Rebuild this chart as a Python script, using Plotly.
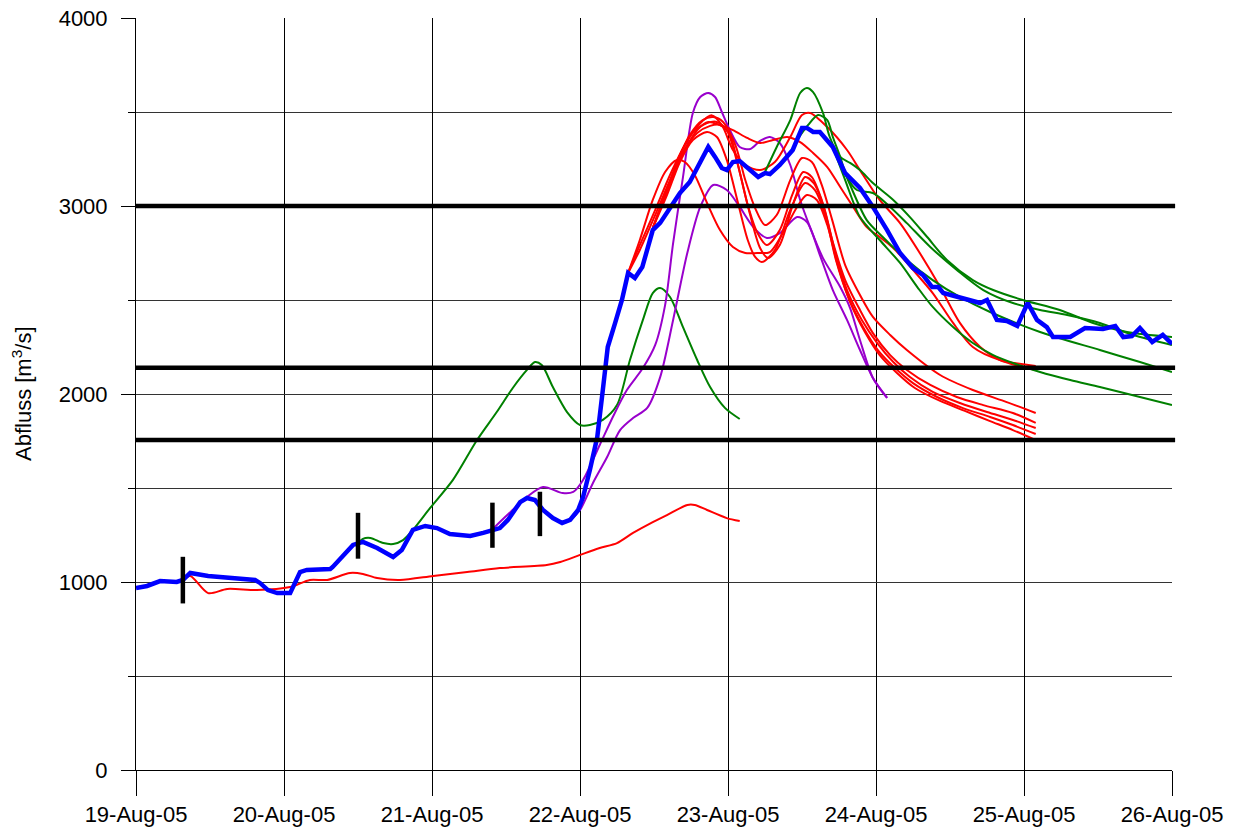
import pandas as pd
import plotly.graph_objects as go

BASE = pd.Timestamp("2005-08-19 00:00")

# Observed discharge (hours since 19-Aug-05 00:00, m3/s)
obs_h = [0.0, 1.8, 3.9, 6.6, 7.6, 8.8, 11.7, 13.6, 16.1, 19.3, 20.1, 21.4, 22.9, 25.0,
         26.6, 27.7, 31.5, 31.9, 35.2, 36.8, 39.1, 41.7, 43.1, 44.9, 46.9, 48.8, 50.9,
         54.2, 56.3, 57.7, 59.0, 60.3, 62.3, 63.4, 64.7, 66.0, 67.6, 69.1, 70.4, 71.7,
         72.5, 73.6, 74.8, 75.7, 76.5, 77.7, 78.8, 79.8, 80.9, 82.1, 83.8, 85.0, 86.6,
         88.2, 89.8, 91.5, 92.8, 93.9, 95.0, 95.8, 96.8, 97.9, 99.6, 100.9, 102.0, 102.8,
         104.4, 106.5, 108.0, 108.8, 109.8, 110.9, 113.0, 115.0, 117.4, 119.5, 121.8,
         123.9, 126.0, 127.6, 129.1, 130.1, 130.9, 133.1, 135.2, 136.9, 138.0, 139.6,
         141.2, 142.9, 144.6, 146.1, 147.7, 148.7, 151.5, 153.9, 156.8, 158.8, 160.1,
         161.5, 162.8, 164.8, 166.5, 168.0]
obs_q = [968, 979, 1005, 1000, 1011, 1048, 1032, 1027, 1016, 1011, 995, 957, 941, 941,
         1053, 1064, 1069, 1080, 1197, 1213, 1181, 1133, 1170, 1277, 1298, 1287, 1255,
         1245, 1261, 1277, 1287, 1330, 1425, 1447, 1436, 1383, 1340, 1314, 1330, 1383,
         1452, 1596, 1771, 2021, 2250, 2378, 2500, 2644, 2617, 2675, 2872, 2910, 2995,
         3069, 3128, 3229, 3314, 3261, 3202, 3191, 3234, 3239, 3191, 3154, 3175, 3170,
         3218, 3298, 3415, 3415, 3394, 3394, 3314, 3175, 3096, 2995, 2872,
         2750, 2670, 2633, 2569, 2569, 2537, 2516, 2500, 2484, 2500, 2394,
         2388, 2362, 2484, 2394, 2356, 2303, 2303, 2351, 2346, 2362, 2303,
         2308, 2351, 2277, 2314, 2266]

# Forecast issued 19-Aug morning
fc0_h = [7.6, 8.8, 11.7, 14.8, 19.6, 25.0, 28.2, 31.0, 34.7, 36.8, 39.1, 42.8, 48.2, 53.7,
         59.0, 66.6, 68.8, 72.0, 75.2, 78.0, 80.6, 83.8, 86.1, 89.4, 90.6, 92.6, 95.8, 97.9]
fc0_q = [1011, 1032, 941, 963, 957, 973, 1011, 1011, 1048, 1043, 1021, 1011, 1032, 1053,
         1074, 1090, 1106, 1144, 1181, 1207, 1261, 1319, 1356, 1410, 1410, 1383, 1340, 1324]

# Forecast issued 20-Aug midday
fc1_h = [35.8, 36.8, 38.0, 40.1, 41.7, 43.3, 44.9, 47.7, 51.4, 55.3, 58.5, 61.1, 63.4, 64.7,
         65.8, 67.6, 69.9, 72.0, 73.6, 75.7, 78.0, 80.1, 82.2, 83.8, 85.0, 86.6, 88.7,
         91.0, 93.1, 95.5, 97.9]
fc1_q = [1197, 1229, 1234, 1207, 1202, 1223, 1277, 1394, 1543, 1755, 1904, 2032, 2128, 2170,
         2154, 2037, 1904, 1835, 1835, 1862, 1941, 2181, 2394, 2537, 2564, 2516, 2356,
         2181, 2037, 1926, 1867]

# Forecasts issued 21-Aug
fc2_h = [57.7, 60.2, 63.4, 66.0, 69.2, 70.9, 72.5, 75.2, 77.4, 79.6, 82.2, 84.2, 85.8, 87.1,
         88.7, 90.3, 91.5, 92.8, 93.9, 95.0, 96.3, 97.9, 99.6, 101.2, 102.8, 104.4, 106.1,
         107.7, 109.3, 111.4, 114.2, 115.8, 117.4, 119.5, 121.8]
fc2_q = [1277, 1356, 1452, 1505, 1473, 1479, 1543, 1729, 1883, 2021, 2138, 2261, 2473, 2803,
         3154, 3495, 3580, 3601, 3580, 3500, 3404, 3314, 3303, 3346, 3367, 3335, 3218,
         3032, 2888, 2723, 2569, 2457, 2287, 2085, 1979]

fc3_h = [65.5, 67.6, 69.1, 70.4, 72.0, 74.1, 76.4, 78.5, 80.6, 82.9, 85.0, 87.1, 89.4, 91.5,
         93.6, 95.8, 97.9, 100.1, 102.3, 104.4, 107.2, 108.8, 110.9, 113.0, 115.3, 117.4,
         119.5, 121.8]
fc3_q = [1404, 1340, 1314, 1330, 1383, 1527, 1665, 1808, 1872, 1926, 2090, 2394, 2750, 2995,
         3112, 3085, 2995, 2888, 2830, 2856, 2941, 2915, 2739, 2553, 2394, 2234,
         2085, 1979]

# Ensemble issued 22-Aug
ens_h = [
    [79.8, 81.7, 83.8, 85.8, 87.7, 89.0, 90.6, 92.6, 94.7, 96.8, 98.8, 100.7, 102.8, 104.9,
     107.2, 108.8, 110.4, 112.1, 113.8, 115.8, 118.2, 120.6, 123.4, 126.3, 130.4, 134.4,
     138.5, 142.2, 145.9],
    [79.8, 81.7, 84.2, 86.6, 89.0, 91.0, 92.8, 94.7, 96.8, 99.1, 101.2, 103.3, 105.6, 107.7,
     109.8, 112.1, 114.2, 116.3, 118.5, 120.6, 122.8, 126.0, 129.2, 132.5, 135.7, 140.1, 145.9],
    [79.8, 81.7, 84.2, 86.6, 89.0, 91.5, 93.4, 95.0, 96.8, 98.8, 101.2, 103.6, 106.1, 108.0,
     109.3, 112.1, 115.3, 117.4, 120.6, 123.9, 127.1, 130.4, 133.6, 136.9, 140.1, 145.9],
    [83.8, 85.8, 87.9, 89.8, 91.9, 93.6, 95.2, 97.2, 98.8, 100.4, 102.0, 103.9, 106.1, 108.0,
     109.6, 111.2, 112.9, 115.0, 117.4, 119.5, 122.3, 125.0, 130.4, 135.7, 141.2, 145.9],
    [83.8, 86.1, 88.2, 90.3, 92.6, 94.2, 95.8, 97.6, 99.2, 100.7, 102.3, 104.4, 106.4, 108.2,
     109.6, 111.2, 112.9, 115.0, 117.4, 119.5, 122.3, 125.0, 128.8, 133.1, 137.4, 142.2, 145.9],
    [83.8, 86.3, 88.7, 91.0, 93.1, 94.7, 96.3, 97.9, 99.6, 101.2, 102.5, 104.4, 106.5, 108.5,
     109.9, 111.6, 113.2, 115.3, 117.7, 120.2, 122.8, 125.5, 129.2, 133.6, 138.0, 142.2, 145.9],
    [83.8, 86.1, 88.2, 90.3, 92.6, 94.2, 95.8, 97.5, 99.2, 100.4, 101.5, 103.6, 106.1, 108.5,
     110.1, 111.9, 113.5, 115.5, 117.9, 120.3, 123.1, 126.0, 129.9, 134.1, 138.5, 142.2, 145.9],
]
ens_q = [
    [2644, 2819, 3032, 3181, 3245, 3234, 3165, 3016, 2872, 2782, 2750, 2750, 2755, 2856,
     2995, 3058, 3032, 2899, 2686, 2489, 2330, 2207, 2112, 2032, 1963, 1910,
     1856, 1808, 1755],
    [2644, 2766, 2952, 3138, 3298, 3404, 3447, 3431, 3404, 3362, 3335, 3351, 3367, 3340,
     3282, 3207, 3101, 2995, 2888, 2835, 2777, 2660, 2537, 2378, 2250, 2181, 2149],
    [2644, 2792, 2979, 3165, 3324, 3440, 3482, 3431, 3298, 3218, 3191, 3234, 3367, 3484,
     3495, 3420, 3298, 3191, 3032, 2909, 2750, 2569, 2378, 2250, 2181, 2128],
    [2883, 3058, 3245, 3378, 3457, 3473, 3447, 3324, 3138, 2989, 2899, 2952, 3138, 3255,
     3234, 3112, 2925, 2686, 2527, 2410, 2314, 2234, 2101, 2021, 1957, 1899],
    [2883, 3085, 3271, 3394, 3441, 3447, 3404, 3218, 3005, 2862, 2792, 2872, 3058, 3181,
     3154, 3032, 2819, 2606, 2447, 2324, 2207, 2128, 2048, 1984, 1941, 1899, 1846],
    [2883, 3096, 3287, 3388, 3426, 3431, 3378, 3181, 2952, 2777, 2723, 2792, 3005, 3154,
     3122, 2989, 2777, 2553, 2394, 2271, 2170, 2090, 2011, 1952, 1904, 1862, 1819],
    [2883, 3058, 3234, 3351, 3394, 3367, 3245, 3032, 2819, 2729, 2702, 2766, 2979, 3122,
     3085, 2936, 2713, 2516, 2356, 2234, 2138, 2058, 1984, 1925, 1878, 1835, 1787],
]

# Forecasts issued 23-Aug
late_h = [
    [102.0, 103.9, 106.1, 107.7, 108.8, 109.8, 111.4, 112.5, 114.2, 115.8, 117.4, 119.5,
     122.8, 125.5, 128.3, 131.5, 135.7, 139.0, 143.8, 149.8, 155.2, 160.7, 168.0],
    [107.2, 109.0, 110.6, 112.1, 113.0, 114.2, 115.3, 116.9, 119.5, 122.3, 125.0, 128.8,
     133.1, 137.4, 142.2, 146.6, 151.0, 156.3, 161.7, 168.0],
    [113.8, 115.8, 118.5, 121.1, 125.0, 129.2, 133.6, 138.5, 146.6, 156.3, 162.8, 168.0],
    [113.0, 115.0, 117.4, 120.6, 123.9, 126.7, 129.2, 132.5, 135.7, 139.0, 142.2, 146.6,
     151.5, 156.3, 162.8, 168.0],
]
late_q = [
    [3181, 3314, 3457, 3601, 3628, 3606, 3495, 3367, 3261, 3229, 3191, 3122,
     3032, 2941, 2835, 2713, 2606, 2553, 2500, 2447, 2378, 2330, 2303],
    [3351, 3431, 3484, 3457, 3367, 3261, 3154, 3085, 3069, 2995, 2909, 2782,
     2660, 2553, 2484, 2447, 2420, 2378, 2314, 2261],
    [3271, 3112, 2925, 2835, 2713, 2606, 2516, 2436, 2330, 2234, 2170, 2117],
    [3314, 3138, 2941, 2819, 2697, 2569, 2463, 2356, 2271, 2207, 2165, 2117,
     2074, 2037, 1984, 1941],
]

# Forecast issue times (vertical bars) and their extent
issue_h = [7.6, 36.0, 57.8, 65.5]
issue_lo = [886, 1124, 1182, 1244]
issue_hi = [1134, 1368, 1422, 1480]

# Threshold levels
thresholds = [3000, 2140, 1755]

day_ticks = pd.date_range("2005-08-19", "2005-08-26", freq="D")


def to_time(hours):
    return BASE + pd.to_timedelta(hours, unit="h")


RED = "#FF0000"
GREEN = "#008000"
PURPLE = "#9900CC"
BLUE = "#0000FF"

fig = go.Figure()


def add_line(h, q, color, width=2.0, shape="spline"):
    fig.add_trace(go.Scatter(
        x=to_time(h), y=q, mode="lines",
        line=dict(color=color, width=width, shape=shape, smoothing=0.8),
        showlegend=False, hoverinfo="skip"))


add_line(fc0_h, fc0_q, RED)
add_line(fc1_h, fc1_q, GREEN)
add_line(fc2_h, fc2_q, PURPLE)
add_line(fc3_h, fc3_q, PURPLE)
for h, q in zip(ens_h, ens_q):
    add_line(h, q, RED)
for h, q in zip(late_h, late_q):
    add_line(h, q, GREEN)

# Observed hydrograph on top of the forecasts
add_line(obs_h, obs_q, BLUE, width=4.5, shape="linear")

# Issue-time bars
bx, by = [], []
for h, lo, hi in zip(issue_h, issue_lo, issue_hi):
    t = to_time([h])[0]
    bx += [t, t, None]
    by += [lo, hi, None]
fig.add_trace(go.Scatter(x=bx, y=by, mode="lines",
                         line=dict(color="black", width=4.5),
                         showlegend=False, hoverinfo="skip"))

for level in thresholds:
    fig.add_shape(type="line", xref="paper", x0=0, x1=1.003, yref="y",
                  y0=level, y1=level, line=dict(color="black", width=4.5),
                  layer="above")

FONT = "Liberation Sans, Arial, Helvetica, sans-serif"

fig.update_layout(
    width=1240, height=833,
    margin=dict(l=136, r=68, t=18, b=63, autoexpand=False),
    paper_bgcolor="white", plot_bgcolor="white",
    font=dict(family=FONT, size=22, color="black"),
    showlegend=False,
)

fig.update_xaxes(
    type="date",
    range=[day_ticks[0], day_ticks[-1]],
    tickvals=day_ticks,
    tickformat="%d-%b-%y",
    ticks="outside", ticklen=25, tickcolor="black", tickwidth=1,
    showgrid=True, gridcolor="black", gridwidth=1,
    showline=True, linecolor="black", linewidth=1,
    zeroline=False, automargin=False,
    tickfont=dict(size=22),
)

fig.update_yaxes(
    range=[0, 4000],
    tick0=0, dtick=1000,
    ticks="outside", ticklen=14, tickcolor="black", tickwidth=1,
    ticklabelstandoff=9,
    showgrid=True, gridcolor="#333333", gridwidth=1,
    minor=dict(dtick=500, tick0=0, ticks="outside", ticklen=7, tickcolor="black",
               showgrid=True, gridcolor="#333333", gridwidth=1),
    showline=True, linecolor="black", linewidth=1,
    zeroline=False, automargin=False,
    tickfont=dict(size=22),
)

fig.add_annotation(
    text="Abfluss [m<sup>3</sup>/s]",
    xref="paper", yref="paper", x=0, y=0.5,
    xanchor="center", yanchor="middle",
    xshift=-114, textangle=-90, showarrow=False,
    font=dict(size=22, family=FONT, color="black"),
)

fig.write_html("out.html")
